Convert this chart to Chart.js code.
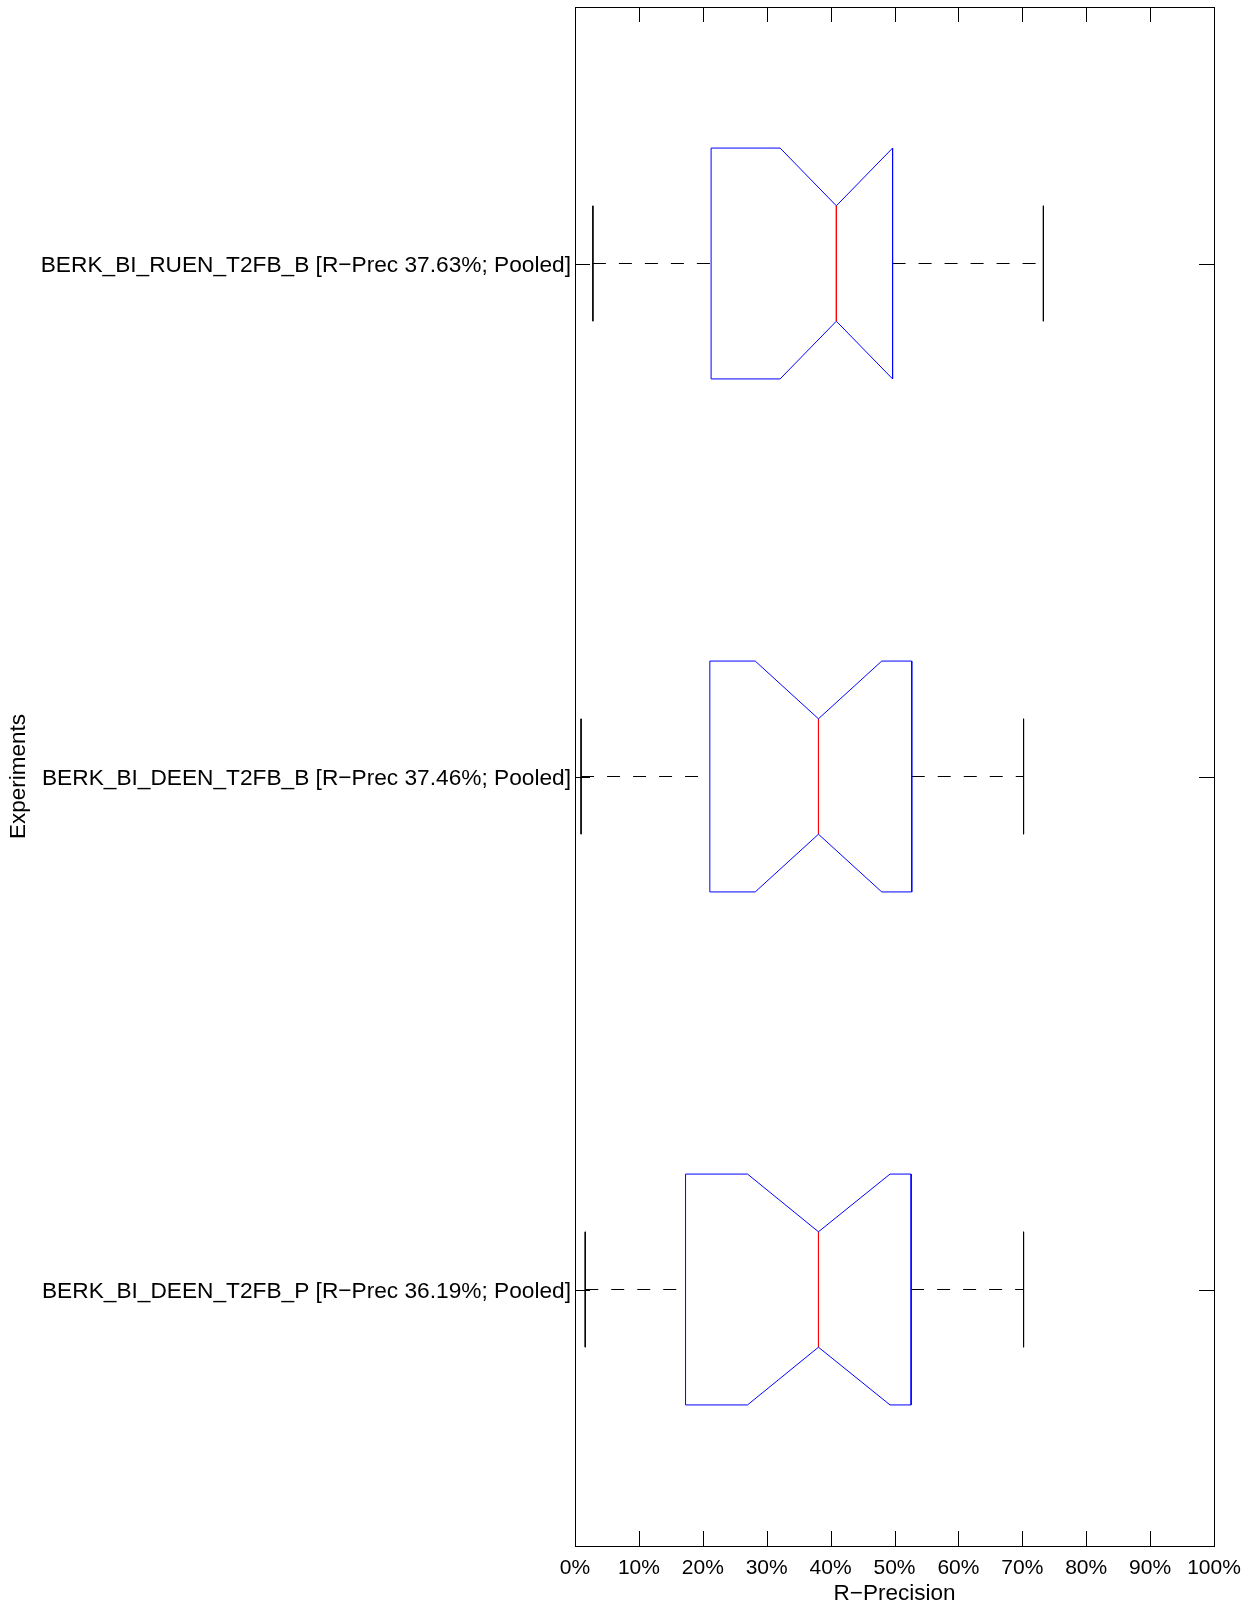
<!DOCTYPE html>
<html>
<head>
<meta charset="utf-8">
<script src="https://cdn.jsdelivr.net/npm/chart.js@4.4.0/dist/chart.umd.min.js"></script>
<style>
    html, body { margin: 0; padding: 0; background: #fff; }
</style>
</head>
<body>
<canvas id="graficoBoxplot" width="1252" height="1607"></canvas>
<script>
// dados (valores em %)
var experimentos = [
    'BERK_BI_RUEN_T2FB_B [R\u2212Prec 37.63%; Pooled]',
    'BERK_BI_DEEN_T2FB_B [R\u2212Prec 37.46%; Pooled]',
    'BERK_BI_DEEN_T2FB_P [R\u2212Prec 36.19%; Pooled]'
];
var bigodeMin   = [2.8, 0.95, 1.6];
var quartil1    = [21.3, 21.1, 17.3];
var entalheMin  = [32.1, 28.2, 27.0];
var mediana     = [40.9, 38.1, 38.1];
var entalheMax  = [49.7, 48.0, 49.3];
var quartil3    = [49.7, 52.7, 52.6];
var bigodeMax   = [73.3, 70.2, 70.2];
var ticksX = [0, 10, 20, 30, 40, 50, 60, 70, 80, 90, 100];

var FONTE = '"Liberation Sans", Arial, Helvetica, sans-serif';
var MEIA_CAIXA = 0.225;
var MEIO_ENTALHE = 0.1125;

function linha(pontos, cor, tracejado) {
    return {
        data: pontos,
        showLine: true,
        borderColor: cor,
        borderWidth: 1,
        borderDash: tracejado ? [13, 13] : [],
        pointRadius: 0,
        fill: false,
        tension: 0
    };
}

function montarDatasets() {
    var datasets = [];
    for (var i = 0; i < experimentos.length; i++) {
        var c = i + 1;
        var h = MEIA_CAIXA, n = MEIO_ENTALHE;
        datasets.push(linha([
            {x: quartil1[i], y: c - h},
            {x: entalheMin[i], y: c - h},
            {x: mediana[i], y: c - n},
            {x: entalheMax[i], y: c - h},
            {x: quartil3[i], y: c - h},
            {x: quartil3[i], y: c + h},
            {x: entalheMax[i], y: c + h},
            {x: mediana[i], y: c + n},
            {x: entalheMin[i], y: c + h},
            {x: quartil1[i], y: c + h},
            {x: quartil1[i], y: c - h}
        ], '#0000ff', false));
        datasets.push(linha([{x: mediana[i], y: c - n}, {x: mediana[i], y: c + n}], '#ff0000', false));
        datasets.push(linha([{x: bigodeMin[i], y: c}, {x: quartil1[i], y: c}], '#000', true));
        datasets.push(linha([{x: quartil3[i], y: c}, {x: bigodeMax[i], y: c}], '#000', true));
        datasets.push(linha([{x: bigodeMin[i], y: c - n}, {x: bigodeMin[i], y: c + n}], '#000', false));
        datasets.push(linha([{x: bigodeMax[i], y: c - n}, {x: bigodeMax[i], y: c + n}], '#000', false));
    }
    return datasets;
}

// moldura e ticks para dentro, estilo matlab
var ticksInternos = {
    id: 'ticksInternos',
    afterDatasetsDraw: function(chart) {
        var ctx = chart.ctx, a = chart.chartArea;
        var sx = chart.scales.x, sy = chart.scales.y;
        var tam = 15;
        ctx.save();
        ctx.strokeStyle = '#000';
        ctx.lineWidth = 1;
        ctx.beginPath();
        sx.ticks.forEach(function(t) {
            var px = Math.round(sx.getPixelForValue(t.value)) + 0.5;
            ctx.moveTo(px, a.bottom); ctx.lineTo(px, a.bottom - tam);
            ctx.moveTo(px, a.top); ctx.lineTo(px, a.top + tam);
        });
        sy.ticks.forEach(function(t) {
            var py = Math.round(sy.getPixelForValue(t.value)) + 0.5;
            ctx.moveTo(a.left, py); ctx.lineTo(a.left + tam, py);
            ctx.moveTo(a.right, py); ctx.lineTo(a.right - tam, py);
        });
        ctx.stroke();
        ctx.strokeRect(Math.round(a.left) + 0.5, Math.round(a.top) + 0.5,
            Math.round(a.right - a.left), Math.round(a.bottom - a.top));
        ctx.restore();
    }
};

var ctx = document.getElementById('graficoBoxplot').getContext('2d');
var grafico = new Chart(ctx, {
    type: 'scatter',
    data: { datasets: montarDatasets() },
    plugins: [ticksInternos],
    options: {
        responsive: false,
        animation: false,
        layout: { padding: { top: 7, right: 38, left: 0, bottom: 0 } },
        plugins: { legend: { display: false }, tooltip: { enabled: false } },
        scales: {
            x: {
                type: 'linear',
                min: 0,
                max: 100,
                afterBuildTicks: function(scale) {
                    scale.ticks = ticksX.map(function(v) { return {value: v}; });
                },
                afterFit: function(scale) {
                    scale.height = 61;
                    scale.paddingLeft = 0;
                    scale.paddingRight = 0;
                },
                grid: { display: false, drawTicks: false },
                border: { display: false },
                ticks: {
                    autoSkip: false,
                    maxRotation: 0,
                    padding: 10,
                    color: '#000',
                    font: { family: FONTE, size: 21 },
                    callback: function(v) { return v + '%'; }
                },
                title: {
                    display: true,
                    text: 'R\u2212Precision',
                    color: '#000',
                    font: { family: FONTE, size: 22.5 },
                    padding: { top: 0, bottom: 0 }
                }
            },
            y: {
                type: 'linear',
                min: 0.5,
                max: 3.5,
                reverse: true,
                afterBuildTicks: function(scale) {
                    scale.ticks = experimentos.map(function(e, i) { return {value: i + 1}; });
                },
                afterFit: function(scale) {
                    scale.width = 575;
                    scale.paddingTop = 0;
                    scale.paddingBottom = 0;
                },
                grid: { display: false, drawTicks: false },
                border: { display: false },
                ticks: {
                    autoSkip: false,
                    padding: 4,
                    labelOffset: 2,
                    color: '#000',
                    font: { family: FONTE, size: 22.7 },
                    callback: function(v) { return experimentos[v - 1]; }
                },
                title: {
                    display: true,
                    text: 'Experiments',
                    color: '#000',
                    font: { family: FONTE, size: 22.5 },
                    padding: { top: 5, bottom: 0 }
                }
            }
        }
    }
});
</script>
</body>
</html>
